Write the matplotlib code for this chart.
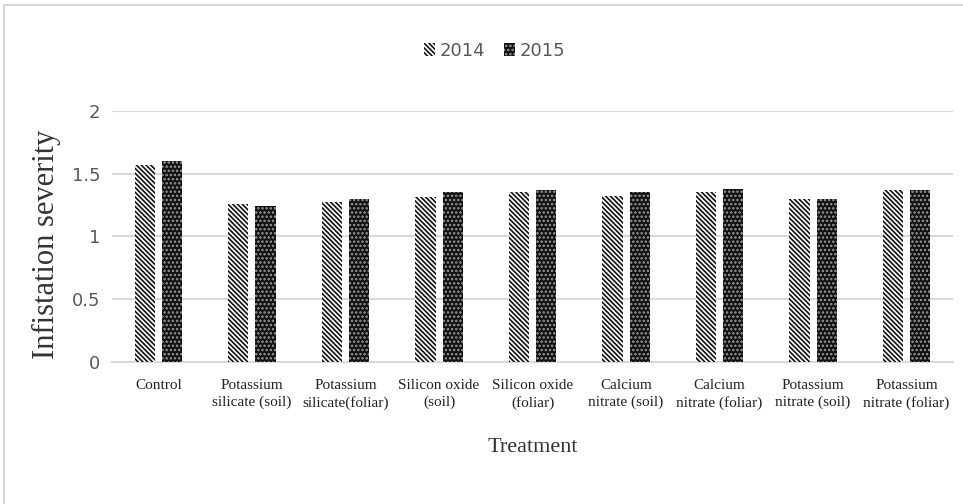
import matplotlib.pyplot as plt
import matplotlib.patches as mpatches
import numpy as np

categories = ["Control", "Potassium\nsilicate (soil)", "Potassium\nsilicate(foliar)",
              "Silicon oxide\n(soil)", "Silicon oxide\n(foliar)", "Calcium\nnitrate (soil)",
              "Calcium\nnitrate (foliar)", "Potassium\nnitrate (soil)", "Potassium\nnitrate (foliar)"]
y2014 = [1.57, 1.26, 1.27, 1.31, 1.35, 1.32, 1.35, 1.30, 1.37]
y2015 = [1.60, 1.24, 1.30, 1.35, 1.37, 1.35, 1.38, 1.30, 1.37]
yticks = [0, 0.5, 1, 1.5, 2]
ytick_labels = ["0", "0.5", "1", "1.5", "2"]

plt.rcParams['hatch.linewidth'] = 1.2

fig = plt.figure(figsize=(9.63, 5.04), dpi=100)
ax = fig.add_axes([0.116, 0.282, 0.874, 0.498])

x = np.arange(len(categories))
w = 0.215
off = 0.145

ax.bar(x - off, y2014, w, facecolor="white", edgecolor="#111111", hatch="\\\\\\\\\\\\\\",
       linewidth=0, label="2014", zorder=3)
ax.bar(x + off, y2015, w, facecolor="#111111", edgecolor="#9a9a9a", hatch="....",
       linewidth=0, label="2015", zorder=3)

ax.set_xlim(-0.5, len(categories) - 0.5)
ax.set_ylim(0, 2)
ax.set_yticks(yticks)
ax.set_yticklabels(ytick_labels, fontsize=13, color="#595959")
ax.set_xticks(x)
ax.set_xticklabels(categories, fontsize=11, family="Liberation Serif", color="#222222",
                   linespacing=1.4)
ax.tick_params(axis="both", length=0, pad=8)
ax.tick_params(axis="x", pad=12)

ax.yaxis.grid(True, color="#d9d9d9", linewidth=1.5, zorder=0)
for s in ["top", "right", "left"]:
    ax.spines[s].set_visible(False)
ax.spines["bottom"].set_color("#d9d9d9")
ax.spines["bottom"].set_linewidth(1.5)

ax.set_xlabel("Treatment", fontsize=16, family="Liberation Serif", color="#333333", labelpad=20)
ax.set_ylabel("Infistation severity", fontsize=22, family="Liberation Serif", color="#333333")
ax.yaxis.set_label_coords(-0.06, 0.47)

leg = ax.legend(loc="center", bbox_to_anchor=(0.455, 1.24), ncol=2, frameon=False,
                handlelength=0.6, handleheight=0.7, handletextpad=0.3, columnspacing=1.0,
                prop={"size": 13})
for t in leg.get_texts():
    t.set_color("#595959")

# light frame of the chart area
fig.add_artist(mpatches.Rectangle((0.004, -0.05), 1.2, 1.04, transform=fig.transFigure,
                                  fill=False, edgecolor="#d0d0d0", linewidth=1.2))

fig.savefig("out.png", dpi=100)
